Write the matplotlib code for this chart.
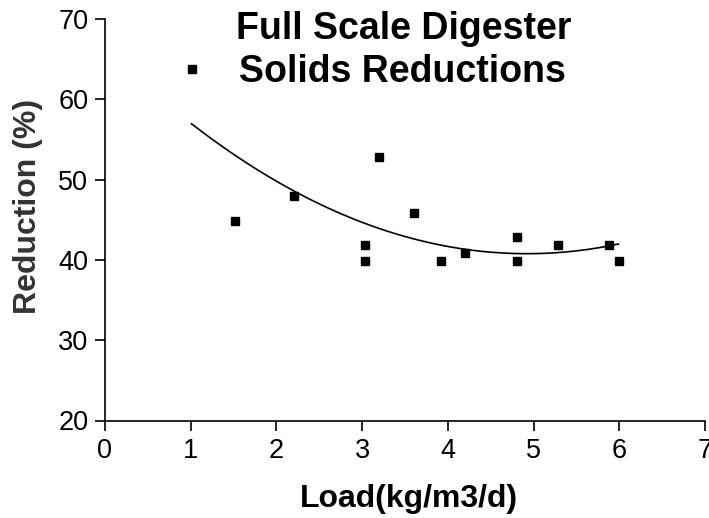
import numpy as np
import matplotlib
matplotlib.use("Agg")
import matplotlib.pyplot as plt

# Observed data (Load vs Reduction)
load = [1.52, 2.21, 3.03, 3.03, 3.20, 3.60, 3.92, 4.20, 4.81, 4.81, 5.29, 5.88, 6.00]
reduction = [44.9, 47.9, 41.9, 39.9, 52.8, 45.9, 39.9, 40.9, 42.9, 39.9, 41.9, 41.9, 39.9]

# Trend curve points (second-order fit line)
trend_x = [1.01, 1.50, 2.21, 2.86, 3.79, 3.91, 4.65, 5.23, 5.99]
trend_y = [57.1, 53.0, 48.4, 45.35, 42.2, 41.95, 40.8, 40.8, 42.0]

x_ticks = [0, 1, 2, 3, 4, 5, 6, 7]
y_ticks = [20, 30, 40, 50, 60, 70]

plt.rcParams['font.family'] = ['Liberation Sans', 'DejaVu Sans']

W, H = 709, 518
fig = plt.figure(figsize=(W / 100, H / 100), dpi=100)
ax = fig.add_axes([105 / W, 1 - 420.5 / H, (705 - 105) / W, (420.5 - 19) / H])

ax.set_xlim(0, 7)
ax.set_ylim(20, 70)

coef = np.polyfit(trend_x, trend_y, 2)
xs = np.linspace(min(trend_x), max(trend_x), 200)
ax.plot(xs, np.polyval(coef, xs), color='black', lw=1.2)

pts, = ax.plot(load, reduction, linestyle='none', marker='s', markersize=6,
               color='black', label='Solids Reductions')

for s in ['top', 'right']:
    ax.spines[s].set_visible(False)
for s in ['left', 'bottom']:
    ax.spines[s].set_linewidth(1.2)

ax.set_xticks(x_ticks)
ax.set_yticks(y_ticks)
ax.tick_params(axis='both', direction='out', length=7.5, width=1.2, labelsize=19.5)
ax.tick_params(axis='y', pad=4.5)
ax.tick_params(axis='x', pad=5)

# Title
fig.text(404 / W, 1 - 39.3 / H, 'Full Scale Digester', ha='center', va='baseline',
         fontsize=27, fontweight='bold')

# Legend
fs = 27
fs_px = fs * 100 / 72
handle_left = 191.7 - fs_px * 0.5
pad = (239 - handle_left - fs_px) / fs_px
leg = ax.legend(handles=[pts], loc='center left',
                bbox_to_anchor=(handle_left / W, 1 - 72 / H),
                bbox_transform=fig.transFigure, frameon=False,
                prop={'size': fs, 'weight': 'bold'}, handlelength=1.0,
                handletextpad=pad, borderpad=0, borderaxespad=0, numpoints=1,
                markerscale=0.95)

# Axis labels
fig.text(409.3 / W, 1 - 507.3 / H, 'Load(kg/m3/d)', ha='center', va='baseline',
         fontsize=23, fontweight='bold')
fig.text(28 / W, 1 - 206.5 / H, 'Reduction (%)', ha='center', va='center',
         rotation=90, fontsize=23, fontweight='bold', color='#333333')

fig.savefig('out.png', dpi=100)
